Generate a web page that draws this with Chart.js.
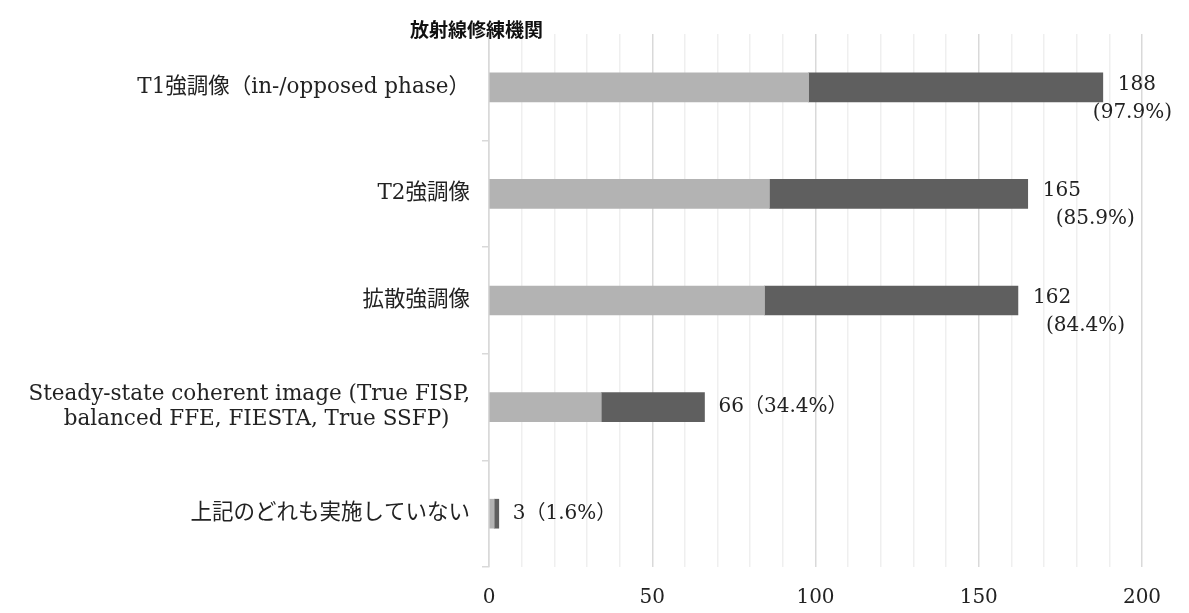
<!DOCTYPE html>
<html>
<head>
<meta charset="utf-8">
<script src="https://cdn.jsdelivr.net/npm/chart.js@4"></script>
<style>
  html, body { margin: 0; padding: 0; background: #fff; }
  #wrap { position: relative; width: 1189px; height: 613px; }
  #title { position: absolute; left: 410px; top: 15px; font: bold 19px "Noto Sans CJK JP", sans-serif; color: #111; }
</style>
</head>
<body>
<div id="wrap">
  <canvas id="chart" width="1189" height="613"></canvas>
  <div id="title">放射線修練機関</div>
</div>
<script>
const categories = [
  "T1強調像（in-/opposed phase）",
  "T2強調像",
  "拡散強調像",
  ["Steady-state coherent image (True FISP,", "balanced FFE, FIESTA, True SSFP)   "],
  "上記のどれも実施していない"
];
const lightPart = [97.9, 85.9, 84.4, 34.4, 1.6];
const darkPart = [90.1, 79.1, 77.6, 31.6, 1.4];
const counts = [188, 165, 162, 66, 3];
const percents = ["97.9%", "85.9%", "84.4%", "34.4%", "1.6%"];
const twoLine = [true, true, true, false, false];

const serif = '"DejaVu Serif", "Noto Sans CJK JP", serif';

const labelPlugin = {
  id: "endLabels",
  afterDatasetsDraw(chart) {
    const ctx = chart.ctx;
    const meta = chart.getDatasetMeta(1);
    ctx.save();
    ctx.font = "20px " + serif;
    ctx.fillStyle = "#222";
    ctx.textBaseline = "middle";
    ctx.textAlign = "left";
    meta.data.forEach((bar, i) => {
      const x = bar.x;
      const y = bar.y;
      if (twoLine[i]) {
        const l1 = String(counts[i]);
        const l2 = "(" + percents[i] + ")";
        ctx.fillText(l1, x + 15, y - 3);
        const w2 = ctx.measureText(l2).width;
        ctx.fillText(l2, Math.min(x + 28, chart.width - 17 - w2), y + 25);
      } else {
        ctx.fillText(counts[i] + "（" + percents[i] + "）", x + 14, y);
      }
    });
    ctx.restore();
  }
};

new Chart(document.getElementById("chart").getContext("2d"), {
  type: "bar",
  data: {
    labels: categories,
    datasets: [
      { label: "a", data: lightPart, backgroundColor: "#b3b3b3", barThickness: 29 },
      { label: "b", data: darkPart, backgroundColor: "#5f5f5f", barThickness: 29 }
    ]
  },
  options: {
    indexAxis: "y",
    responsive: false,
    animation: false,
    layout: { padding: { top: 34, right: 47, left: 0, bottom: 0 } },
    plugins: { legend: { display: false }, tooltip: { enabled: false } },
    scales: {
      x: {
        stacked: true,
        min: 0,
        max: 200,
        afterFit: (s) => { s.height = 46; },
        border: { display: false },
        grid: {
          drawTicks: false,
          lineWidth: 1.5,
          color: (c) => (c.tick && c.tick.value % 50 === 0) ? "#d9d9d9" : "#efefef"
        },
        ticks: {
          stepSize: 10,
          autoSkip: false,
          maxRotation: 0,
          padding: 19,
          color: "#222",
          font: { family: serif, size: 20 },
          callback: (v) => (v % 50 === 0 ? v : "")
        }
      },
      y: {
        stacked: true,
        afterFit: (s) => { s.width = 489; },
        border: { display: true, color: "#d9d9d9", width: 1.5 },
        grid: { drawOnChartArea: false, tickLength: 7, color: "#d9d9d9", lineWidth: 1.5 },
        ticks: {
          padding: 12,
          color: "#222",
          font: { family: serif, size: 21.5, lineHeight: 1.17 }
        }
      }
    }
  },
  plugins: [labelPlugin]
});
</script>
</body>
</html>
